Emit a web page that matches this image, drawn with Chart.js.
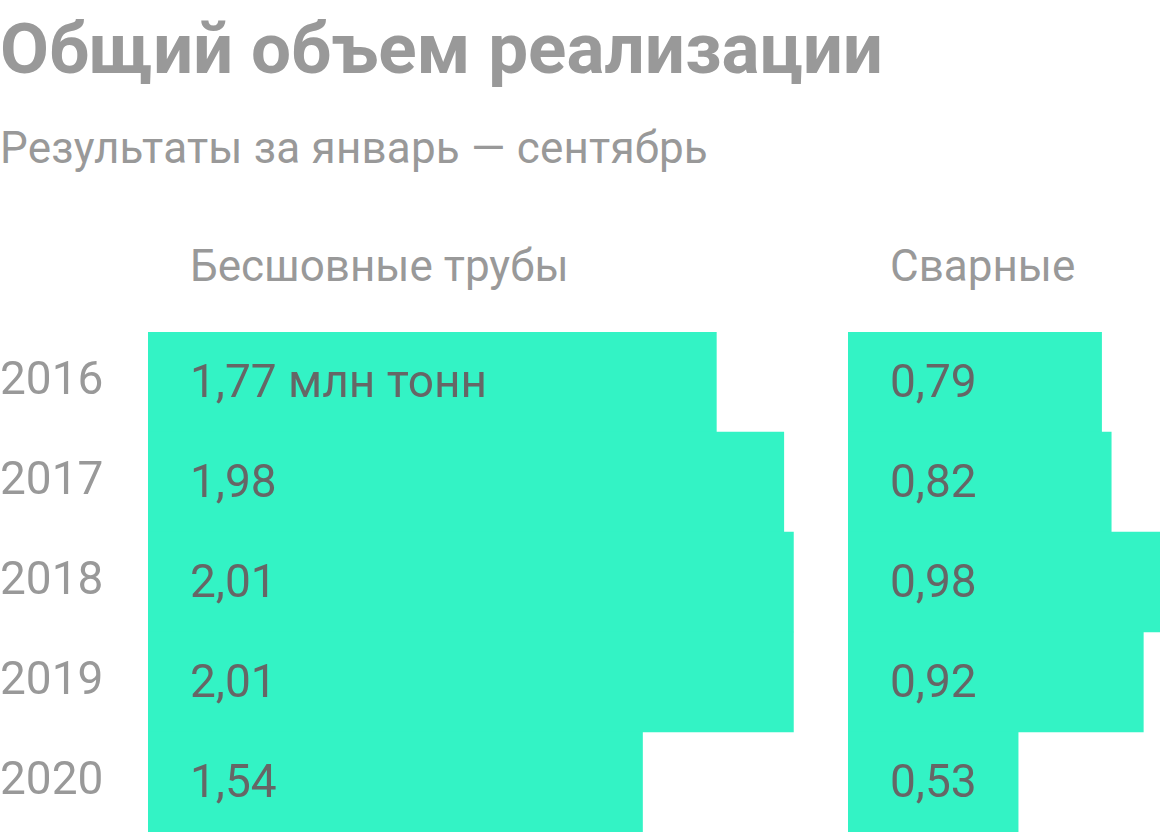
<!DOCTYPE html>
<html>
<head>
<meta charset="utf-8">
<script src="https://cdn.jsdelivr.net/npm/chart.js@4.4.0/dist/chart.umd.min.js"></script>
<style>
  html, body { margin: 0; padding: 0; background: #fff; }
  body { width: 1160px; height: 832px; position: relative; overflow: hidden; font-family: Roboto, sans-serif; }
  .txt { position: absolute; white-space: nowrap; color: #999; }
  #title { left: 0; top: 13px; font-size: 71px; line-height: 71px; font-weight: 700; }
  #subtitle { left: 0; top: 126px; font-size: 44px; line-height: 44px; letter-spacing: 0.2px; }
  .head { top: 244px; font-size: 44px; line-height: 44px; }
  #wrap1 { position: absolute; left: 0; top: 332px; width: 848px; height: 500px; }
  #wrap2 { position: absolute; left: 848px; top: 332px; width: 312px; height: 500px; }
</style>
</head>
<body>
<div id="title" class="txt">Общий объем реализации</div>
<div id="subtitle" class="txt">Результаты за январь — сентябрь</div>
<div class="txt head" style="left:190px">Бесшовные трубы</div>
<div class="txt head" style="left:890px">Сварные</div>
<div id="wrap1"><canvas id="seamless"></canvas></div>
<div id="wrap2"><canvas id="welded"></canvas></div>
<script>
const years = ['2016', '2017', '2018', '2019', '2020'];
const seamless = [1.77, 1.98, 2.01, 2.01, 1.54];
const welded = [0.79, 0.82, 0.98, 0.92, 0.53];

const barColor = '#33f3c5';

function fmt(v) {
  return v.toFixed(2).replace('.', ',');
}

// value labels inside the bars
const valueLabels = {
  id: 'valueLabels',
  afterDatasetsDraw(chart, args, opts) {
    const ctx = chart.ctx;
    const meta = chart.getDatasetMeta(0);
    ctx.save();
    ctx.font = '46px Roboto';
    ctx.fillStyle = '#666';
    ctx.textBaseline = 'alphabetic';
    ctx.textAlign = 'left';
    meta.data.forEach((bar, i) => {
      let s = fmt(chart.data.datasets[0].data[i]);
      if (i === 0 && opts.unit) s += ' ' + opts.unit;
      ctx.fillText(s, chart.chartArea.left + 42, bar.y + 15);
    });
    ctx.restore();
  }
};

function makeChart(id, values, max, showYears, unit) {
  return new Chart(document.getElementById(id), {
    type: 'bar',
    data: {
      labels: years,
      datasets: [{
        data: values,
        backgroundColor: barColor,
        barPercentage: 1,
        categoryPercentage: 1
      }]
    },
    options: {
      indexAxis: 'y',
      responsive: true,
      maintainAspectRatio: false,
      animation: false,
      layout: { padding: 0 },
      plugins: {
        legend: { display: false },
        tooltip: { enabled: false },
        valueLabels: { unit: unit }
      },
      scales: {
        x: { display: false, min: 0, max: max },
        y: {
          display: showYears,
          grid: { display: false },
          border: { display: false },
          ticks: { color: '#999', font: { family: 'Roboto', size: 46 }, crossAlign: 'far', padding: 0 },
          afterFit(scale) {
            scale.paddingTop = 0;
            scale.paddingBottom = 0;
            if (showYears) scale.width = 148;
          }
        }
      }
    },
    plugins: [valueLabels]
  });
}

// same px-per-unit in both panels
makeChart('seamless', seamless, 2.18, true, 'млн тонн');
makeChart('welded', welded, 0.972, false, '');
</script>
</body>
</html>
